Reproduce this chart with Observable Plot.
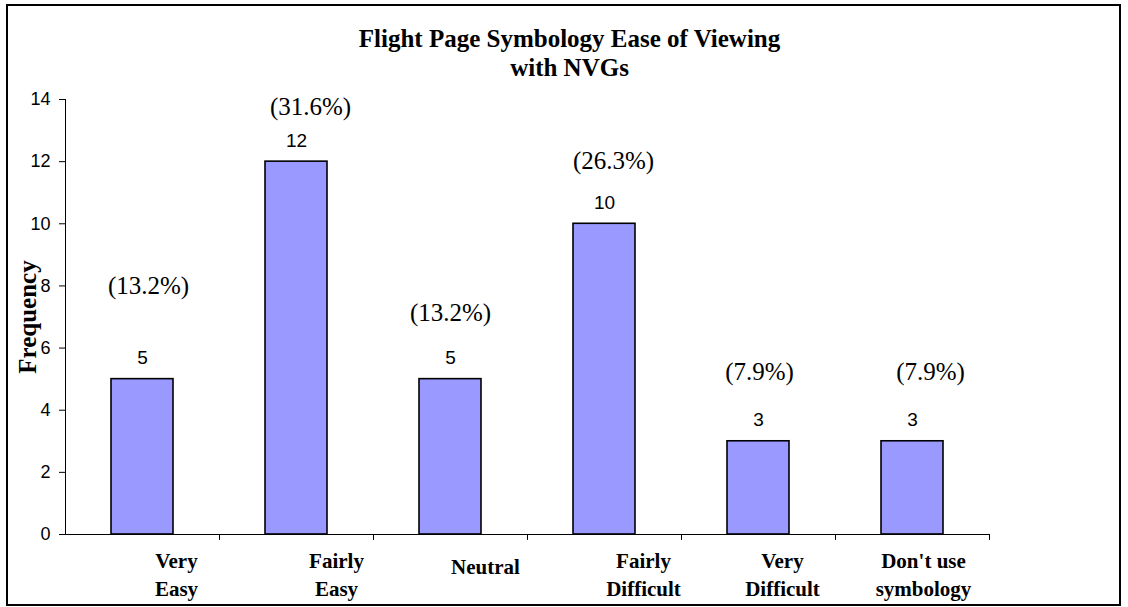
<!DOCTYPE html>
<html><head><meta charset="utf-8">
<script src="https://cdn.jsdelivr.net/npm/d3@7"></script>
<script src="https://cdn.jsdelivr.net/npm/@observablehq/plot@0.6"></script>
<style>
html,body{margin:0;padding:0;background:#fff;}
#wrap{position:relative;width:1128px;height:607px;overflow:hidden;background:#fff;}
#frame{position:absolute;left:6px;top:4px;width:1115px;height:602px;box-sizing:border-box;border:2px solid #000;pointer-events:none;}
#chart svg{display:block;}
</style></head><body>
<div id="wrap"><div id="chart"></div><div id="frame"></div></div>
<script>
// ---- data ----
const categories = ["Very\nEasy", "Fairly\nEasy", "Neutral", "Fairly\nDifficult", "Very\nDifficult", "Don't use\nsymbology"];
const frequencies = [5, 12, 5, 10, 3, 3];
const percentLabels = ["(13.2%)", "(31.6%)", "(13.2%)", "(26.3%)", "(7.9%)", "(7.9%)"];
const yTicks = [0, 2, 4, 6, 8, 10, 12, 14];
const titleText = "Flight Page Symbology Ease of Viewing\nwith NVGs";
const yLabel = "Frequency";

// ---- layout (label nudges, pixels) ----
const pctLift = [93, 55, 66, 63, 69, 69];
const pctDx = [6, 14, 0, 9, 1, 18];
const catDx = [34, 40, 35, 39, 24, 11];
const catDy = [14, 14, 20, 14, 14, 14];

const rows = categories.map((c, i) => ({cat: c, value: frequencies[i], pct: percentLabels[i], i}));
const serif = "'Liberation Serif', 'Times New Roman', serif";
const sans = "'Liberation Sans', Arial, sans-serif";

const marks = [
  Plot.barY(rows, {x: "cat", y: "value", fill: "#9999FF", stroke: "#000", strokeWidth: 1.6}),
  Plot.ruleY([0], {stroke: "#000", strokeWidth: 1}),
  Plot.ruleX([categories[0]], {y1: 0, y2: 14, dx: -77, stroke: "#000", strokeWidth: 1}),
  Plot.ruleX(categories, {x: d => d, y1: 0, y2: -0.19, dx: 77, stroke: "#000", strokeWidth: 1}),
  Plot.text(rows, {x: "cat", y: "value", text: d => String(d.value), dy: -21, fontSize: 19, fontFamily: sans, fill: "#000"}),
  ...rows.map(d => Plot.text([d], {x: "cat", y: "value", text: "pct", dx: pctDx[d.i], dy: -pctLift[d.i], fontSize: 25, fontFamily: serif, fill: "#000"})),
  ...rows.map(d => Plot.text([d], {x: "cat", y: () => 0, text: "cat", dx: catDx[d.i], dy: catDy[d.i], lineAnchor: "top", lineHeight: 1.31, fontSize: 21, fontWeight: "bold", fontFamily: serif, fill: "#000"})),
  Plot.text([yLabel], {frameAnchor: "left", textAnchor: "middle", rotate: -90, dx: -38, fontSize: 25, fontWeight: "bold", fontFamily: serif, fill: "#000"}),
  Plot.text([titleText], {frameAnchor: "top", lineAnchor: "bottom", dx: 42, dy: -24, lineHeight: 1.16, fontSize: 25, fontWeight: "bold", fontFamily: serif, fill: "#000"})
];

const chart = Plot.plot({
  width: 1128,
  height: 607,
  marginLeft: 65,
  marginRight: 139,
  marginTop: 99,
  marginBottom: 73,
  style: {fontFamily: sans, fontSize: "18px", color: "#000", background: "transparent", overflow: "visible"},
  x: {type: "band", domain: categories, paddingInner: 0.6, paddingOuter: 0.3, axis: null},
  y: {domain: [0, 14], ticks: yTicks, tickSize: 6, tickPadding: 9, label: null},
  marks
});
document.getElementById("chart").appendChild(chart);
</script>
</body></html>
